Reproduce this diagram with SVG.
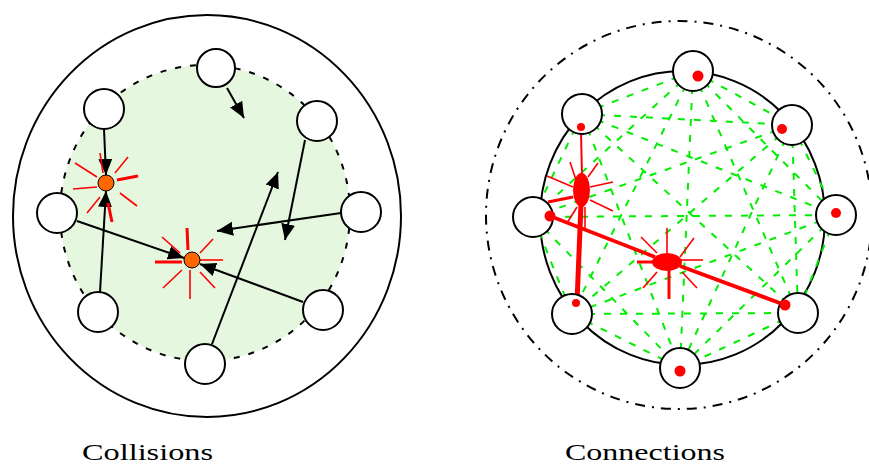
<svg xmlns="http://www.w3.org/2000/svg" width="869" height="473" viewBox="0 0 869 473">
<defs>
<marker id="ah" markerWidth="18" markerHeight="16" refX="16" refY="8" orient="auto" markerUnits="userSpaceOnUse">
<path d="M0,1 L16,8 L0,15 Z" fill="#000"/>
</marker>
</defs>
<style>
.node{fill:#fff;stroke:#000;stroke-width:2}
.ln{stroke:#000;stroke-width:2;fill:none}
.ray{stroke:#f00;stroke-width:1.6;fill:none}
.rayb{stroke:#f00;stroke-width:3;fill:none}
.gl{stroke:#00ee00;stroke-width:2;stroke-dasharray:7 9;fill:none}
.dot{fill:#f00}
.lab{font-family:"Liberation Serif","DejaVu Serif",serif;font-size:24px;fill:#000}
</style>
<rect width="869" height="473" fill="#fff"/>

<!-- LEFT: Collisions -->
<g id="left-frame">
<ellipse cx="207" cy="216" rx="194" ry="201" fill="none" stroke="#000" stroke-width="2"/>
<ellipse cx="205" cy="213" rx="145" ry="148" fill="#e6f7e0" stroke="#000" stroke-width="2" stroke-dasharray="6 9"/>
</g>
<g id="left-connectors">
<line class="ln" x1="227" y1="88" x2="244" y2="118" marker-end="url(#ah)"/>
<line class="ln" x1="104" y1="129" x2="106" y2="175" marker-end="url(#ah)"/>
<line class="ln" x1="100" y1="292" x2="106" y2="191" marker-end="url(#ah)"/>
<line class="ln" x1="77" y1="221" x2="184" y2="258" marker-end="url(#ah)"/>
<line class="ln" x1="303" y1="302" x2="200" y2="264" marker-end="url(#ah)"/>
<line class="ln" x1="212" y1="344" x2="278" y2="172" marker-end="url(#ah)"/>
<line class="ln" x1="305" y1="140" x2="285" y2="240" marker-end="url(#ah)"/>
<line class="ln" x1="341" y1="213" x2="217" y2="231" marker-end="url(#ah)"/>
</g>
<g id="left-nodes">
<circle id="l-n1" class="node" cx="216" cy="68" r="19"/>
<circle id="l-n2" class="node" cx="104" cy="109" r="20"/>
<circle id="l-n3" class="node" cx="317" cy="121" r="20"/>
<circle id="l-n4" class="node" cx="57" cy="213" r="20"/>
<circle id="l-n5" class="node" cx="361" cy="212" r="20"/>
<circle id="l-n6" class="node" cx="98" cy="312" r="20"/>
<circle id="l-n7" class="node" cx="323" cy="310" r="20"/>
<circle id="l-n8" class="node" cx="205" cy="364" r="20"/>
</g>
<g id="collision-1">
<line class="ray" x1="100" y1="153" x2="103" y2="173"/>
<line class="ray" x1="128" y1="157" x2="115" y2="173"/>
<line class="rayb" x1="138" y1="176" x2="117" y2="180"/>
<line class="ray" x1="137" y1="206" x2="120" y2="193"/>
<line class="rayb" x1="112" y1="222" x2="108" y2="203"/>
<line class="ray" x1="87" y1="213" x2="100" y2="197"/>
<line class="ray" x1="73" y1="189" x2="97" y2="187"/>
<line class="ray" x1="75" y1="163" x2="97" y2="177"/>
<circle cx="106" cy="183" r="8" fill="#ff6600" stroke="#000" stroke-width="1"/>
</g>
<g id="collision-2">
<line class="rayb" x1="187" y1="228" x2="188" y2="250"/>
<line class="ray" x1="213" y1="239" x2="200" y2="253"/>
<line class="ray" x1="223" y1="260" x2="200" y2="260"/>
<line class="ray" x1="215" y1="288" x2="200" y2="272"/>
<line class="ray" x1="190" y1="299" x2="190" y2="270"/>
<line class="ray" x1="163" y1="288" x2="182" y2="270"/>
<line class="rayb" x1="155" y1="262" x2="182" y2="262"/>
<line class="ray" x1="162" y1="237" x2="180" y2="253"/>
<circle cx="192" cy="260" r="8" fill="#ff6600" stroke="#000" stroke-width="1"/>
</g>

<!-- RIGHT: Connections -->
<g id="right-frame">
<ellipse cx="679" cy="215" rx="193" ry="194" fill="none" stroke="#000" stroke-width="2" stroke-dasharray="10 7 2 7"/>
<ellipse cx="682.5" cy="218" rx="142.5" ry="147" fill="none" stroke="#000" stroke-width="2"/>
</g>
<g id="right-connectors">
<g id="mesh">
<path class="gl" d="M693,71 L582,114 M693,71 L792,125 M693,71 L533,217 M693,71 L836,215 M693,71 L572,314 M693,71 L798,313 M693,71 L680,368
M582,114 L792,125 M582,114 L533,217 M582,114 L836,215 M582,114 L798,313 M582,114 L680,368
M792,125 L533,217 M792,125 L836,215 M792,125 L572,314 M792,125 L798,313 M792,125 L680,368
M533,217 L836,215 M533,217 L572,314 M533,217 L680,368
M836,215 L572,314 M836,215 L798,313 M836,215 L680,368
M572,314 L798,313 M572,314 L680,368
M798,313 L680,368"/>
</g>
<g id="red-links">
<line x1="581" y1="133" x2="582" y2="176" stroke="#f00" stroke-width="2"/>
<line x1="581" y1="204" x2="577" y2="303" stroke="#f00" stroke-width="5"/>
<line x1="550" y1="216" x2="655" y2="257" stroke="#f00" stroke-width="3.5"/>
<line x1="680" y1="266" x2="785" y2="305" stroke="#f00" stroke-width="4"/>
</g>
</g>
<g id="right-nodes">
<g id="r-n1"><circle class="node" cx="693" cy="71" r="20"/><circle class="dot" cx="698" cy="76" r="5.5"/></g>
<g id="r-n2"><circle class="node" cx="582" cy="114" r="20"/><circle class="dot" cx="581" cy="127" r="4"/></g>
<g id="r-n3"><circle class="node" cx="792" cy="125" r="20"/><circle class="dot" cx="782" cy="129" r="5"/></g>
<g id="r-n4"><circle class="node" cx="533" cy="217" r="20"/><circle class="dot" cx="550" cy="216" r="5.5"/></g>
<g id="r-n5"><circle class="node" cx="836" cy="215" r="20"/><circle class="dot" cx="836" cy="213" r="5"/></g>
<g id="r-n6"><circle class="node" cx="572" cy="314" r="20"/><circle class="dot" cx="576" cy="303" r="4"/></g>
<g id="r-n7"><circle class="node" cx="798" cy="313" r="20"/><circle class="dot" cx="785" cy="305" r="5.5"/></g>
<g id="r-n8"><circle class="node" cx="680" cy="368" r="20"/><circle class="dot" cx="680" cy="371" r="5.5"/></g>
</g>
<g id="connection-1">
<line class="ray" x1="570" y1="162" x2="576" y2="180"/>
<line class="ray" x1="598" y1="163" x2="588" y2="177"/>
<line class="ray" x1="613" y1="182" x2="590" y2="187"/>
<line class="ray" x1="613" y1="211" x2="590" y2="200"/>
<line class="ray" x1="585" y1="230" x2="585" y2="207"/>
<line class="ray" x1="567" y1="223" x2="577" y2="207"/>
<line class="rayb" x1="548" y1="202" x2="573" y2="197"/>
<line class="ray" x1="547" y1="176" x2="573" y2="187"/>
<ellipse cx="581.5" cy="190" rx="8.5" ry="17" fill="#f00"/>
</g>
<g id="connection-2">
<line class="ray" x1="667" y1="228" x2="667" y2="253"/>
<line class="ray" x1="694" y1="238" x2="680" y2="257"/>
<line class="ray" x1="703" y1="260" x2="677" y2="260"/>
<line class="ray" x1="697" y1="288" x2="682" y2="272"/>
<line class="rayb" x1="669" y1="299" x2="669" y2="270"/>
<line class="ray" x1="643" y1="288" x2="657" y2="272"/>
<line class="rayb" x1="637" y1="262" x2="657" y2="262"/>
<line class="ray" x1="641" y1="237" x2="657" y2="253"/>
<ellipse cx="667" cy="262" rx="15" ry="9" fill="#f00"/>
</g>

<g id="labels">
<text class="lab" x="82" y="460" textLength="131" lengthAdjust="spacingAndGlyphs">Collisions</text>
<text class="lab" x="565" y="460" textLength="160" lengthAdjust="spacingAndGlyphs">Connections</text>
</g>
</svg>
